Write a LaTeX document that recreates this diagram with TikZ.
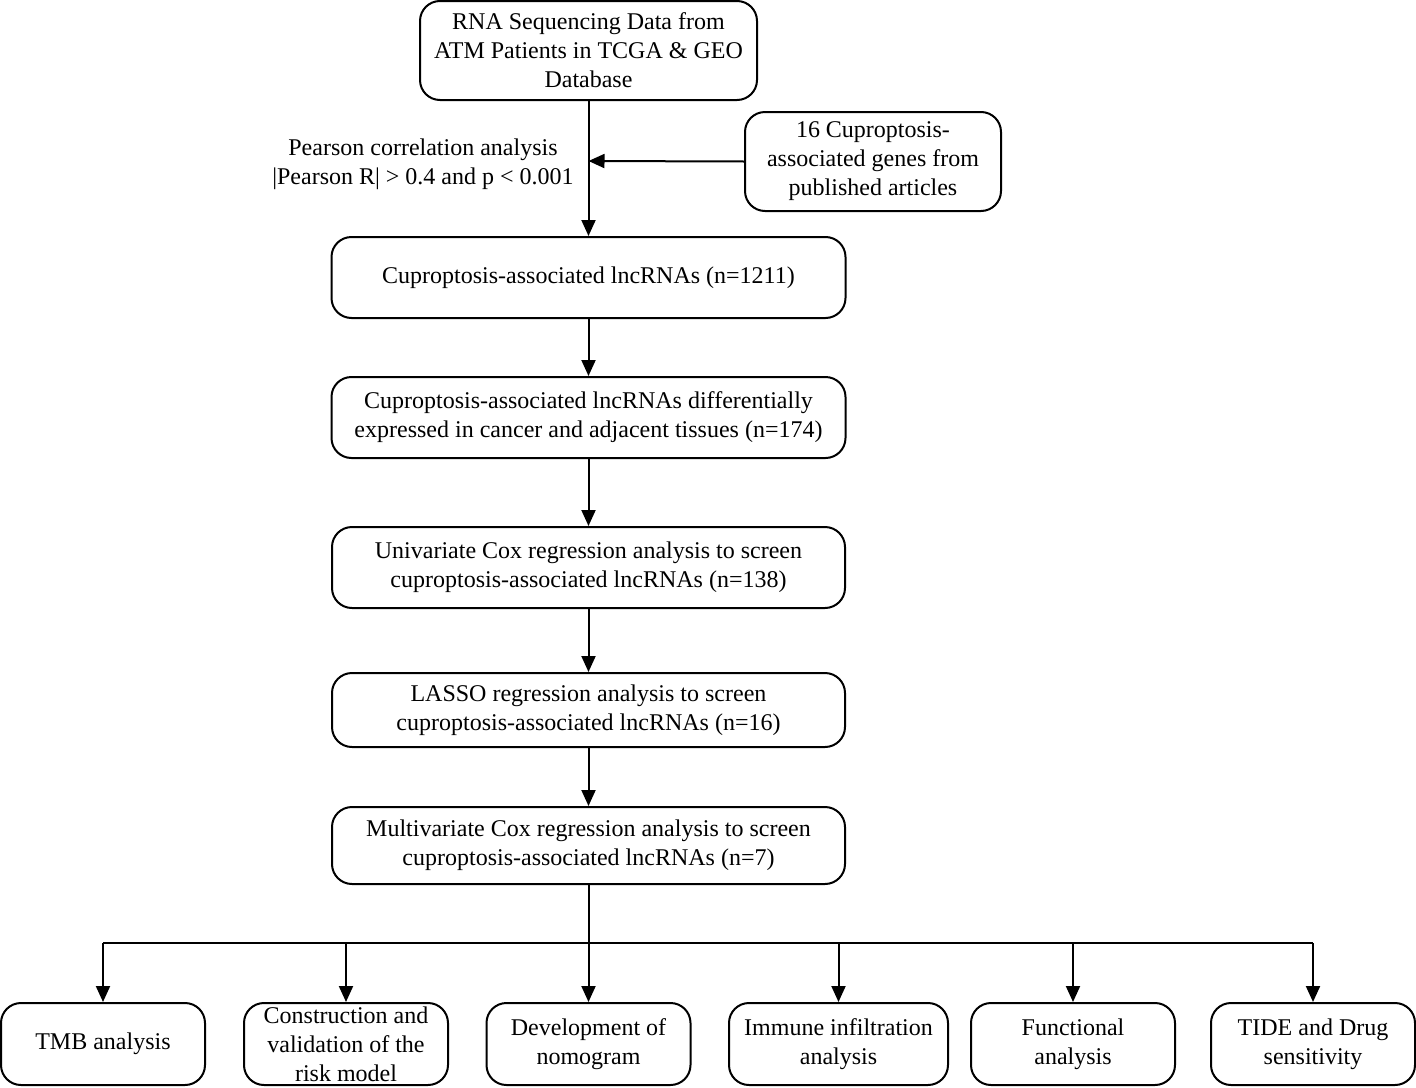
\documentclass[tikz,border=0pt]{standalone}
\usepackage{fontspec}
\setmainfont{Liberation Serif}
\usetikzlibrary{arrows.meta}
\begin{document}
\begin{tikzpicture}[x=1pt,y=-1pt,
  box/.style={draw,line width=2pt,rounded corners=20pt,align=center,inner sep=0pt,
    font=\fontsize{24}{29}\selectfont},
  conn/.style={line width=2pt,-{Triangle[length=16pt,width=14pt]}},
  lbl/.style={align=center,font=\fontsize{24}{29}\selectfont}]
\useasboundingbox (0,0) rectangle (1416,1087);
\node[box,minimum width=337pt,minimum height=99pt] (src) at (588.5,50.5) {RNA Sequencing Data from\\ATM Patients in TCGA \& GEO\\Database};
\node[box,minimum width=256pt,minimum height=99pt] (genes) at (873,161.5) {16 Cuproptosis-\\associated genes from\\published articles};
\node[lbl] (pearson) at (423,164) {Pearson correlation analysis\\|Pearson R| > 0.4 and p < 0.001};
\node[box,minimum width=514pt,minimum height=81pt] (b2) at (588.5,277.5) {Cuproptosis-associated lncRNAs (n=1211)};
\node[box,minimum width=514pt,minimum height=81pt] (b3) at (588.5,417.5) {Cuproptosis-associated lncRNAs differentially\\expressed in cancer and adjacent tissues (n=174)};
\node[box,minimum width=513pt,minimum height=81pt] (b4) at (588.5,567.5) {Univariate Cox regression analysis to screen\\cuproptosis-associated lncRNAs (n=138)};
\node[box,minimum width=513pt,minimum height=74pt] (b5) at (588.5,710) {LASSO regression analysis to screen\\cuproptosis-associated lncRNAs (n=16)};
\node[box,minimum width=513pt,minimum height=77pt] (b6) at (588.5,845.5) {Multivariate Cox regression analysis to screen\\cuproptosis-associated lncRNAs (n=7)};
\coordinate (hub) at (588.5,943);
\coordinate (join) at (588.5,161);
\node[box,minimum width=204pt,minimum height=82pt] (o1) at (103,1044) {TMB analysis};
\node[box,minimum width=204pt,minimum height=82pt] (o2) at (346,1044) {Construction and\\validation of the\\risk model};
\node[box,minimum width=204pt,minimum height=82pt] (o3) at (588.5,1044) {Development of\\nomogram};
\node[box,minimum width=219pt,minimum height=82pt] (o4) at (838.5,1044) {Immune infiltration\\analysis};
\node[box,minimum width=204pt,minimum height=82pt] (o5) at (1073,1044) {Functional\\analysis};
\node[box,minimum width=204pt,minimum height=82pt] (o6) at (1313,1044) {TIDE and Drug\\sensitivity};
\draw[conn] (src.south) -- (b2.north);
\draw[conn] (genes.west) -- (join);
\draw[conn] (b2) -- (b3);
\draw[conn] (b3) -- (b4);
\draw[conn] (b4) -- (b5);
\draw[conn] (b5) -- (b6);
\draw[line width=2pt] (b6.south) -- (hub);
\draw[line width=2pt] (o1.north |- hub) -- (o6.north |- hub);
\foreach \o in {o1,o2,o3,o4,o5,o6} \draw[conn] (\o.north |- hub) -- (\o.north);
\end{tikzpicture}
\end{document}
